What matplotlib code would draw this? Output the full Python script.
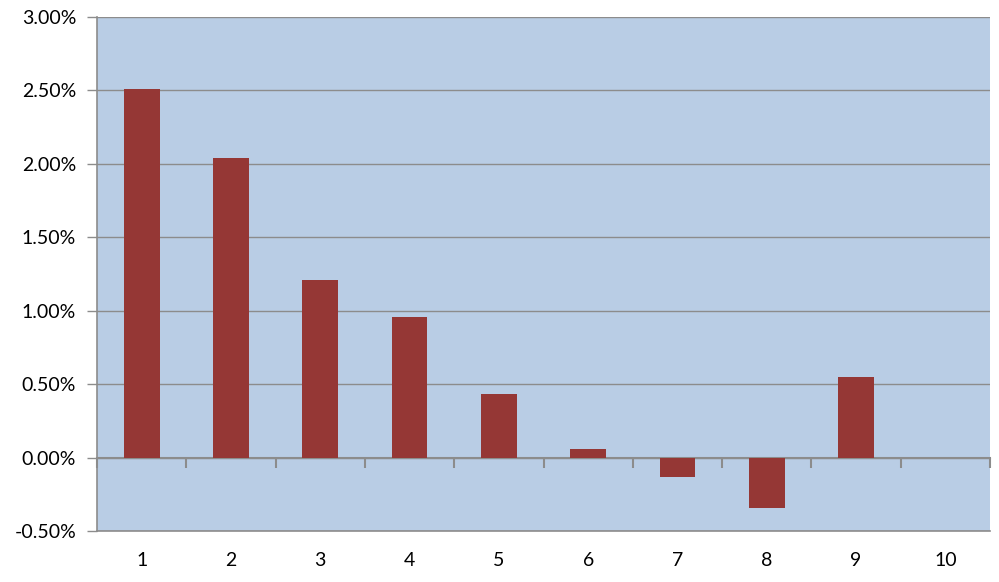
import matplotlib.pyplot as plt
import numpy as np
from matplotlib.ticker import FuncFormatter

# values (percent)
categories = [1, 2, 3, 4, 5, 6, 7, 8, 9, 10]
values = [2.51, 2.04, 1.21, 0.96, 0.43, 0.06, -0.13, -0.34, 0.55, -0.005]
yticks = [-0.5, 0.0, 0.5, 1.0, 1.5, 2.0, 2.5, 3.0]

plt.rcParams['font.family'] = ['Lato', 'DejaVu Sans']
grey = '#8c8c8c'

fig = plt.figure(figsize=(9.99, 5.82), dpi=100)
ax = fig.add_axes([97/999, 51/582, 893/999, 514/582])
ax.set_facecolor('#b9cde5')

ax.bar(categories, values, width=0.4, color='#953735', zorder=3)

ax.set_xlim(0.5, 10.5)
ax.set_ylim(-0.5, 3.0)
ax.set_yticks(yticks)
ax.yaxis.set_major_formatter(FuncFormatter(lambda v, p: '%.2f%%' % v))
ax.grid(axis='y', color=grey, linewidth=1, zorder=1)
ax.set_axisbelow(True)

ax.set_xticks(categories)
ax.tick_params(axis='x', length=0, pad=15, labelsize=14)
ax.tick_params(axis='y', length=7, color=grey, width=1, labelsize=14, pad=8)

for s in ['top', 'right']:
    ax.spines[s].set_visible(False)
for s in ['left', 'bottom']:
    ax.spines[s].set_color(grey)
    ax.spines[s].set_linewidth(1.2)

# zero line axis with ticks between categories
zero_pos = (0 - (-0.5)) / 3.5
sec = ax.secondary_xaxis(zero_pos)
sec.spines['bottom'].set_color(grey)
sec.spines['bottom'].set_linewidth(1.5)
sec.set_xticks(np.arange(0.5, 11, 1.0))
sec.set_xticklabels([])
sec.tick_params(axis='x', length=7, color=grey, width=1.5, direction='out')

fig.savefig('out.png', dpi=100)
